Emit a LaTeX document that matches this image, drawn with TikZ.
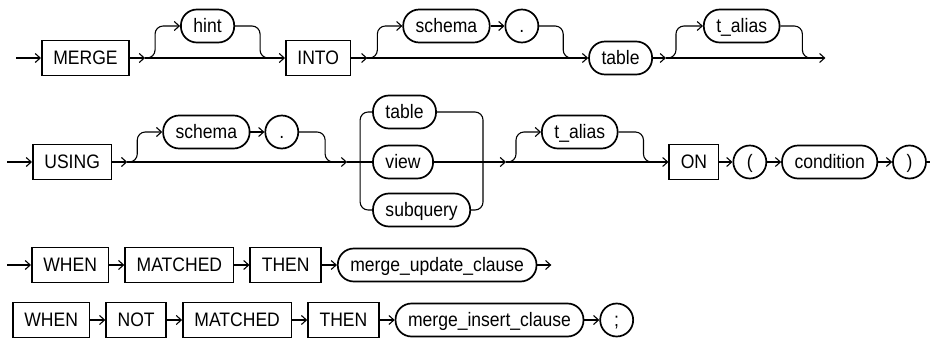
\documentclass[tikz,border=0pt]{standalone}
\usepackage{fontspec}
\setmainfont{Liberation Sans}[FakeStretch=0.9]
\usepackage{tikz}
\usetikzlibrary{arrows.meta, positioning, calc}
\tikzset{
	kw/.style   ={rectangle, draw=black, line width=1.7pt, minimum height=35pt, inner xsep=11.5pt, text height=15pt, text depth=3pt},
	term/.style ={rectangle, rounded corners=16pt, draw=black, line width=1.7pt, minimum height=33pt, inner xsep=12.5pt, text height=15pt, text depth=3pt},
	punct/.style={circle, draw=black, line width=1.7pt, minimum size=33pt, inner sep=0pt, text height=15pt, text depth=3pt},
	% rails
	rail/.style ={line width=1.1pt},
	arr/.style  ={rail, -{Straight Barb[length=5pt, width=9pt]}},
	loop/.style ={rounded corners=8pt},
}

\begin{document}
\begin{tikzpicture}[x=1pt, y=1pt, font=\fontsize{19.5}{23}\selectfont]
	\useasboundingbox (0,0) rectangle (930,-340);

	% MERGE [hint] INTO [schema .] table [t_alias]
	\coordinate (a0) at (16,-58);
	\node[kw, right=25pt of a0] (merge) {MERGE};
	\coordinate[right=15pt of merge] (a1);
	\node[term, anchor=west] (hint) at ($(a1)+(35,32)$) {hint};
	\coordinate (a2) at ($(hint.east)+(35,-32)$);
	\node[kw, right=15pt of a2] (into) {INTO};
	\coordinate[right=16pt of into] (a3);
	\node[term, anchor=west] (schema1) at ($(a3)+(35,32)$) {schema};
	\node[punct, right=14pt of schema1] (dot1) {.};
	\coordinate (a4) at ($(dot1.east)+(34,-32)$);
	\node[term, right=15pt of a4] (table1) {table};
	\coordinate[right=13pt of table1] (a5);
	\node[term, anchor=west] (alias1) at ($(a5)+(37,32)$) {t\_alias};
	\coordinate (a6) at ($(alias1.east)+(30,-32)$);
	\coordinate[right=15pt of a6] (a7);

	\draw[arr] (a0) -- (merge);
	\draw[arr] (merge) -- (a1);
	\draw[arr] (a1) -- (into);
	\draw[arr, loop] (a1) -- ++(10,0) |- (hint.west);
	\draw[rail, loop] (hint.east) -| ($(a2)+(-10,0)$) -- (a2);
	\draw[arr] (into) -- (a3);
	\draw[arr] (a3) -- (table1);
	\draw[arr, loop] (a3) -- ++(10,0) |- (schema1.west);
	\draw[arr] (schema1) -- (dot1);
	\draw[rail, loop] (dot1.east) -| ($(a4)+(-10,0)$) -- (a4);
	\draw[arr] (table1) -- (a5);
	\draw[arr] (a5) -- (a7);
	\draw[arr, loop] (a5) -- ++(10,0) |- (alias1.west);
	\draw[rail, loop] (alias1.east) -| ($(a6)+(-8,0)$) -- (a6);

	% USING [schema .] table|view|subquery [t_alias] ON ( condition )
	\coordinate (b0) at (7,-162);
	\node[kw, right=25pt of b0] (using) {USING};
	\coordinate[right=15pt of using] (b1);
	\node[term, anchor=west] (schema2) at ($(b1)+(35,30)$) {schema};
	\node[punct, right=14pt of schema2] (dot2) {.};
	\coordinate (b2) at ($(dot2.east)+(36,-30)$);
	\coordinate[right=12pt of b2] (b3);
	\coordinate[right=13pt of b3] (bl);
	\node[term, right=12pt of bl] (view) {view};
	\node[term, anchor=west] (table2) at ($(view.west)+(0,50)$) {table};
	\node[term, anchor=west] (subq) at ($(view.west)+(0,-48)$) {subquery};
	\coordinate (br) at ($(subq.east)+(12,48)$);
	\coordinate[right=23pt of br] (b4);
	\node[term, anchor=west] (alias2) at ($(b4)+(35,30)$) {t\_alias};
	\coordinate (b5) at ($(alias2.east)+(35,-30)$);
	\node[kw, right=15pt of b5] (on) {ON};
	\node[punct, right=13pt of on] (lp) {(};
	\node[term, right=14pt of lp] (cond) {condition};
	\node[punct, right=14pt of cond] (rp) {)};
	\coordinate[right=14pt of rp] (b6);

	\draw[arr] (b0) -- (using);
	\draw[arr] (using) -- (b1);
	\draw[arr] (b1) -- (b3);
	\draw[arr, loop] (b1) -- ++(10,0) |- (schema2.west);
	\draw[arr] (schema2) -- (dot2);
	\draw[rail, loop] (dot2.east) -| ($(b2)+(-10,0)$) -- (b2);
	\draw[rail] (b3) -- (view);
	\draw[rail, loop] (table2.west) -| (bl) |- (subq.west);
	\draw[rail, loop] (table2.east) -| (br) |- (subq.east);
	\draw[rail] (view) -- (br);
	\draw[arr] (br) -- (b4);
	\draw[arr] (b4) -- (on);
	\draw[arr, loop] (b4) -- ++(10,0) |- (alias2.west);
	\draw[rail, loop] (alias2.east) -| ($(b5)+(-10,0)$) -- (b5);
	\draw[arr] (on) -- (lp);
	\draw[arr] (lp) -- (cond);
	\draw[arr] (cond) -- (rp);
	\draw[arr] (rp) -- (b6);

	% WHEN MATCHED THEN merge_update_clause
	\coordinate (c0) at (7,-265);
	\node[kw, right=24pt of c0] (when1) {WHEN};
	\node[kw, right=15pt of when1] (matched1) {MATCHED};
	\node[kw, right=15pt of matched1] (then1) {THEN};
	\node[term, right=15pt of then1] (upd) {merge\_update\_clause};
	\coordinate[right=14pt of upd] (c1);
	\draw[arr] (c0) -- (when1);
	\draw[arr] (when1) -- (matched1);
	\draw[arr] (matched1) -- (then1);
	\draw[arr] (then1) -- (upd);
	\draw[arr] (upd) -- (c1);

	% WHEN NOT MATCHED THEN merge_insert_clause ;
	\node[kw, anchor=west] (when2) at (12,-320) {WHEN};
	\node[kw, right=15pt of when2] (not) {NOT};
	\node[kw, right=15pt of not] (matched2) {MATCHED};
	\node[kw, right=15pt of matched2] (then2) {THEN};
	\node[term, right=15pt of then2] (ins) {merge\_insert\_clause};
	\node[punct, right=15pt of ins] (semi) {;};
	\draw[arr] (when2) -- (not);
	\draw[arr] (not) -- (matched2);
	\draw[arr] (matched2) -- (then2);
	\draw[arr] (then2) -- (ins);
	\draw[arr] (ins) -- (semi);
\end{tikzpicture}
\end{document}
